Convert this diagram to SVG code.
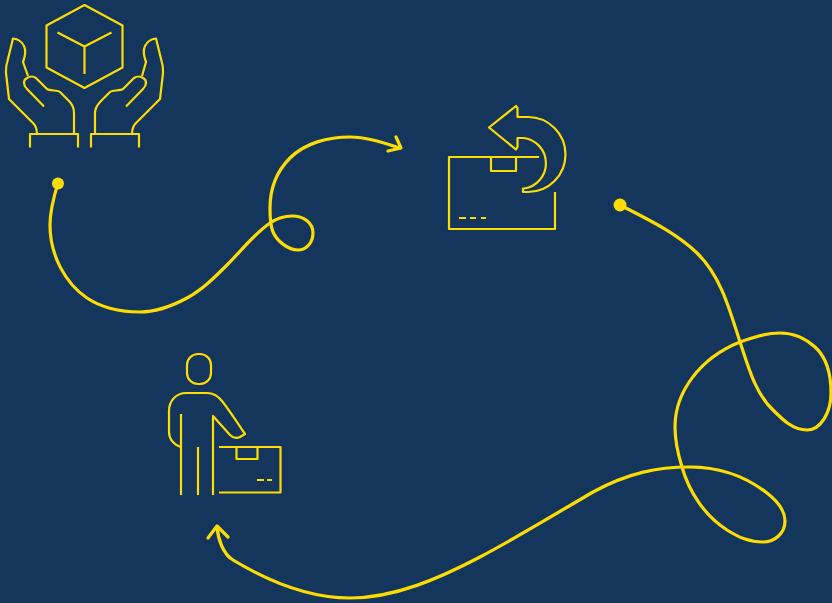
<svg xmlns="http://www.w3.org/2000/svg" width="832" height="603" viewBox="0 0 832 603">
<style>
.i{fill:none;stroke:#ffdc00;stroke-width:2.200;stroke-linejoin:round}
.c{fill:none;stroke:#ffdc00;stroke-width:3.200;stroke-linecap:round;stroke-linejoin:round}
.d{fill:#ffdc00}
</style>
<rect width="832" height="603" fill="#14365d"/>
<g id="hands">
<path class="i" d="M84.500 5L122.500 25.500V67.500L84.500 88L46.500 67.500V25.500Z"/>
<path class="i" d="M57.500 32.500L84.500 46.500L111.500 32.500M84.500 46.500V74"/>
<path class="i" d="M44 106.500L27 89C23 85 23 80 27 78C30 76 33 76 36 78L47 89C50 91 58 90 60 92L69 101C73 105 74 108 74 113V134"/>
<path class="i" d="M28 76L23 62C26 54 26 50 24 46C22 42 18 39 13 38.500L7 63C6 66 6 70 6 73L9 99L33 123C36 126 37 130 37 134"/>
<path class="i" d="M30 147.500V134H78V147.500"/>
<path class="i" d="M126 106.500L143 89C147 85 147 80 143 78C140 76 137 76 134 78L123 89C120 91 112 90 110 92L101 101C97 105 95 108 95 113V134"/>
<path class="i" d="M142 76L146 62C143 54 143 50 145 46C147 42 151 39 156 38.500L162 63C163 66 163 70 163 73L160 99L136 123C133 126 132 130 132 134"/>
<path class="i" d="M91 147.500V134H139V147.500"/>
</g>
<g id="return-box">
<path class="i" d="M539 157H449V229H555V192"/>
<path class="i" d="M491 157V171H516V157"/>
<path class="i" d="M459 218H466M470 218H476M481 218H486"/>
<path class="i" d="M489 127.500L516 106L517.500 108V117H528A37.500 37.500 0 0 1 528 192H523V188.500H524A25.500 25.500 0 0 0 524 138H517.500V147L516 149.500Z"/>
</g>
<g id="person">
<rect class="i" x="187" y="354" width="24" height="30" rx="11"/>
<path class="i" d="M181 447C174 445 169 439 169 432V411C169 401 176 393 186 393H207C214 393 218 396 222 401C230 411 238 424 245 434L240 437C236 439 233 438 230 435L213 416V495"/>
<path class="i" d="M181 414V495M198 447V495"/>
<path class="i" d="M219 447H280.500V492.500H219"/>
<path class="i" d="M236.500 447V459H257.500V447"/>
<path class="i" d="M257 480H264M267 480H272"/>
</g>
<g id="connectors">
<circle class="d" cx="58" cy="183.500" r="6"/>
<path class="c" d="M58 183C54 196 50 211 50 225C50 255 65 283 87 298C102 308 122 312 140 312C156 312 173 305.500 187 298C202 290 215 277 227 265C241 251 254 234 270 223C276 219 285 216 292 216C304 216 313 223 313 233C313 243 306 250 298 250C288 250 277 241 273 232C270 225 270 216 270 208C270 189 277 171 290 158C305 143 328 137 350 137C367 137 384 143 400 148"/>
<path class="c" d="M396 137L401 148L388 151"/>
<circle class="d" cx="620" cy="205" r="6.500"/>
<path class="c" d="M620 205C647 219 675 232 697 253C721 276 730 311 740 342C748 366 755 393 773 410C783 420 793 430 807 430C821 430 831 412 831 393C831 372 825 356 815 347C805 338 794 333 780 333C766 333 753 337 740 342C700 358 675 392 675 427C675 441 678 454 682 467C689 492 705 516 727 530C739 537.500 749 542 763 542C775 542 785 533 785 521C785 509 776 500 767 493C745 476 718 467 690 467C657 467 628 473 593 492C552 516 518 537 480 557C440 578 395 598 350 598C309 598 268 581 233 560C223 554 218 539 217 527"/>
<path class="c" d="M208 538L217 526L228 537"/>
</g>
</svg>
